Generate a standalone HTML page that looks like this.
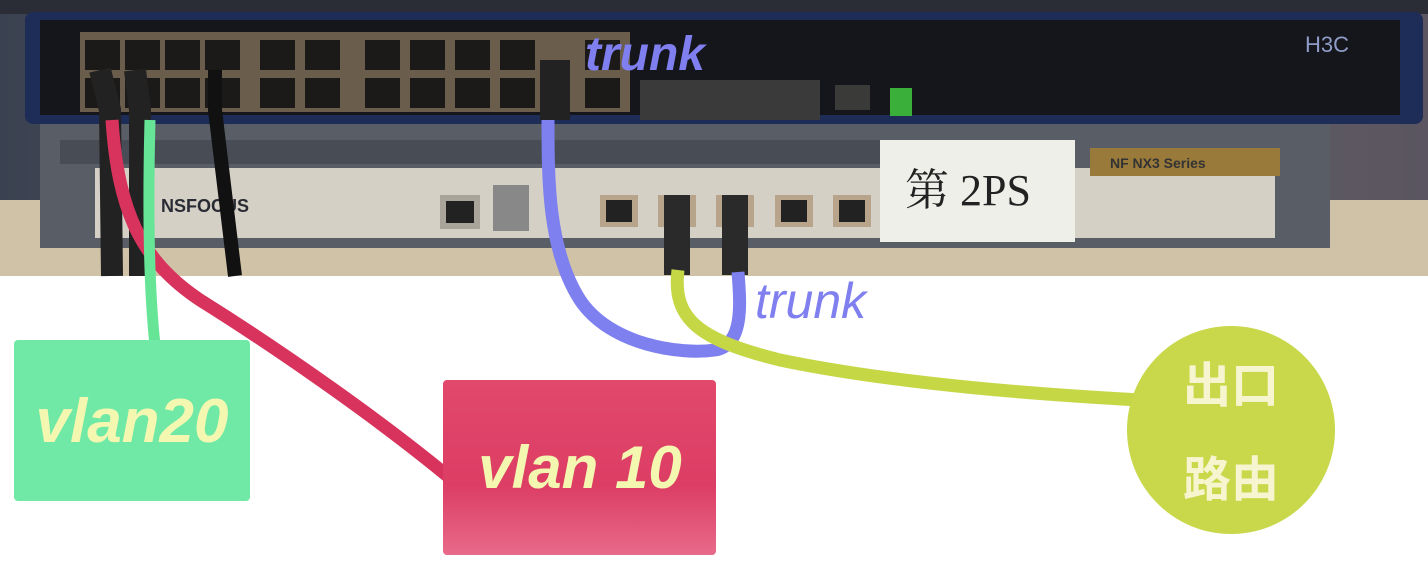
<!DOCTYPE html>
<html><head><meta charset="utf-8"><style>
html,body{margin:0;padding:0;background:#fff;width:1428px;height:581px;overflow:hidden}
svg{display:block}
</style></head><body>
<svg width="1428" height="581" viewBox="0 0 1428 581" xmlns="http://www.w3.org/2000/svg">
<defs>
<linearGradient id="rg" x1="0" y1="0" x2="0" y2="1"><stop offset="0" stop-color="#e2486c"/><stop offset="0.6" stop-color="#dc3d64"/><stop offset="1" stop-color="#e86a8a"/></linearGradient>
<linearGradient id="bg" x1="0" y1="0" x2="1" y2="0"><stop offset="0" stop-color="#3a4150"/><stop offset="0.5" stop-color="#6b6a66"/><stop offset="1" stop-color="#5a5560"/></linearGradient>
</defs>
<rect x="0" y="0" width="1428" height="276" fill="url(#bg)"/>
<rect x="0" y="200" width="1428" height="76" fill="#cfc2a6"/>
<rect x="0" y="0" width="1428" height="14" fill="#2a2d36"/>
<rect x="40" y="120" width="1290" height="128" fill="#585d66"/>
<rect x="95" y="168" width="1180" height="70" fill="#d4d0c6"/>
<g fill="#2c2f36"><rect x="60" y="140" width="1000" height="24" opacity="0.35"/></g>
<text x="150" y="212" font-family="Liberation Sans,sans-serif" font-weight="bold" font-size="18" fill="#2a2c35">· NSFOCUS</text>
<rect x="440" y="195" width="40" height="34" fill="#a8a49a"/><rect x="446" y="201" width="28" height="22" fill="#222"/>
<rect x="493" y="185" width="36" height="46" fill="#888"/>
<g fill="#b7a48a"><rect x="600" y="195" width="38" height="32"/><rect x="658" y="195" width="38" height="32"/><rect x="716" y="195" width="38" height="32"/><rect x="775" y="195" width="38" height="32"/><rect x="833" y="195" width="38" height="32"/></g>
<g fill="#222"><rect x="606" y="200" width="26" height="22"/><rect x="781" y="200" width="26" height="22"/><rect x="839" y="200" width="26" height="22"/></g>
<rect x="1090" y="148" width="190" height="28" fill="#9a7a3a"/>
<text x="1110" y="168" font-family="Liberation Sans,sans-serif" font-weight="bold" font-size="14" fill="#333">NF NX3 Series</text>
<rect x="880" y="140" width="195" height="102" fill="#efefea"/>
<text x="905" y="205" font-family="Liberation Serif,'Noto Serif CJK SC',serif" font-size="44" fill="#222">第 2PS</text>
<rect x="25" y="12" width="1398" height="112" rx="8" fill="#1e2c58"/>
<rect x="40" y="20" width="1360" height="95" fill="#15161b"/>
<rect x="80" y="32" width="550" height="80" fill="#6b5d4c"/>
<g fill="#1c1a18">
<rect x="85" y="40" width="35" height="30"/><rect x="125" y="40" width="35" height="30"/><rect x="165" y="40" width="35" height="30"/><rect x="205" y="40" width="35" height="30"/><rect x="260" y="40" width="35" height="30"/><rect x="305" y="40" width="35" height="30"/><rect x="365" y="40" width="35" height="30"/><rect x="410" y="40" width="35" height="30"/><rect x="455" y="40" width="35" height="30"/><rect x="500" y="40" width="35" height="30"/><rect x="585" y="40" width="35" height="30"/>
<rect x="85" y="78" width="35" height="30"/><rect x="125" y="78" width="35" height="30"/><rect x="165" y="78" width="35" height="30"/><rect x="205" y="78" width="35" height="30"/><rect x="260" y="78" width="35" height="30"/><rect x="305" y="78" width="35" height="30"/><rect x="365" y="78" width="35" height="30"/><rect x="410" y="78" width="35" height="30"/><rect x="455" y="78" width="35" height="30"/><rect x="500" y="78" width="35" height="30"/><rect x="585" y="78" width="35" height="30"/>
</g>
<rect x="640" y="80" width="180" height="40" fill="#3a3a3a"/>
<rect x="835" y="85" width="35" height="25" fill="#3a3a38"/>
<rect x="890" y="88" width="22" height="28" fill="#3ab03a"/>
<text x="1305" y="52" font-family="Liberation Sans,sans-serif" font-size="22" fill="#8f9cc7">H3C</text>
<path d="M100 70 L110 110 L112 276" stroke="#222" stroke-width="22" fill="none"/>
<path d="M135 70 L140 110 L140 276" stroke="#222" stroke-width="22" fill="none"/>
<path d="M215 70 L215 110 L235 276" stroke="#111" stroke-width="14" fill="none"/>
<rect x="540" y="60" width="30" height="60" fill="#222"/>
<rect x="664" y="195" width="26" height="80" fill="#2a2a2a"/><rect x="722" y="195" width="26" height="80" fill="#2a2a2a"/>
<path d="M112 120 C118 210 140 260 200 300 C280 350 380 420 450 478" stroke="#d8335d" stroke-width="13" fill="none"/>
<path d="M150 120 C148 200 148 280 155 345" stroke="#66e596" stroke-width="11" fill="none"/>
<path d="M548 120 C548 180 548 250 580 300 C610 345 680 355 715 350 C745 345 740 300 738 272" stroke="#7f80ef" stroke-width="13" fill="none"/>
<path d="M678 270 C672 320 700 340 780 360 C900 385 1050 395 1140 400" stroke="#c6d745" stroke-width="13" fill="none"/>
<text x="585" y="70" font-family="Liberation Sans,sans-serif" font-style="italic" font-weight="bold" font-size="48" fill="#7f7ff0">trunk</text>
<text x="755" y="318" font-family="Liberation Sans,sans-serif" font-style="italic" font-size="50" fill="#7f7ff0">trunk</text>
<rect x="14" y="340" width="236" height="161" rx="4" fill="#70e9a6"/>
<text x="132" y="442" text-anchor="middle" font-family="Liberation Sans,sans-serif" font-style="italic" font-weight="bold" font-size="62" fill="#f4f7b0">vlan20</text>
<rect x="443" y="380" width="273" height="175" rx="4" fill="url(#rg)"/>
<text x="580" y="488" text-anchor="middle" font-family="Liberation Sans,sans-serif" font-style="italic" font-weight="bold" font-size="60" fill="#f4f7b0">vlan 10</text>
<circle cx="1231" cy="430" r="104" fill="#c8d84a"/>
<text x="1231" y="402" text-anchor="middle" font-family="'Noto Sans CJK SC',sans-serif" font-weight="bold" font-size="48" fill="#f5f6d0">出口</text>
<text x="1231" y="496" text-anchor="middle" font-family="'Noto Sans CJK SC',sans-serif" font-weight="bold" font-size="48" fill="#f5f6d0">路由</text>
</svg>
</body></html>
